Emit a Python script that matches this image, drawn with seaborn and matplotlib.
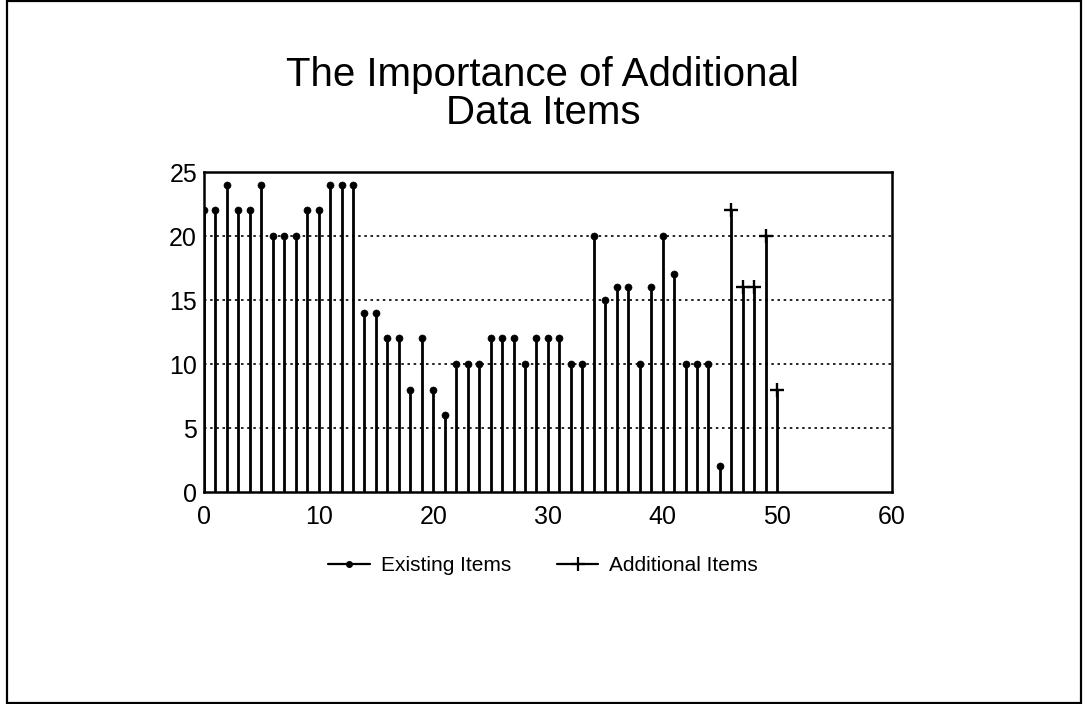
import numpy as np
import pandas as pd
import matplotlib
matplotlib.use('Agg')
import matplotlib.pyplot as plt
import seaborn as sns
from matplotlib.patches import Rectangle
from matplotlib.lines import Line2D

# data
existing_x = list(range(0, 46))
existing_y = [22, 22, 24, 22, 22, 24, 20, 20, 20, 22,
              22, 24, 24, 24, 14, 14, 12, 12, 8, 12,
              8, 6, 10, 10, 10, 12, 12, 12, 10, 12,
              12, 12, 10, 10, 20, 15, 16, 16, 10, 16,
              20, 17, 10, 10, 10, 2]
additional_x = [46, 47, 48, 49, 50]
additional_y = [22, 16, 16, 20, 8]
x_ticks = [0, 10, 20, 30, 40, 50, 60]
y_ticks = [0, 5, 10, 15, 20, 25]
grid_levels = [5, 10, 15, 20]

sns.set_style('white')
plt.rcParams['font.family'] = ['Liberation Sans', 'DejaVu Sans']
plt.rcParams['text.color'] = 'black'
plt.rcParams['xtick.color'] = 'black'
plt.rcParams['ytick.color'] = 'black'

dfe = pd.DataFrame({'x': existing_x, 'y': existing_y})
dfa = pd.DataFrame({'x': additional_x, 'y': additional_y})

fig = plt.figure(figsize=(10.86, 7.04), dpi=100)
ax = fig.add_axes([0.1878, 0.3011, 0.6335, 0.4545])

# stems
ax.vlines(dfe['x'], 0, dfe['y'], color='black', lw=2.0, zorder=3)
ax.vlines(dfa['x'], 0, dfa['y'], color='black', lw=2.0, zorder=3)
# heads
sns.scatterplot(data=dfe, x='x', y='y', ax=ax, marker='o', s=26,
                color='black', edgecolor='black', zorder=4, legend=False)
sns.scatterplot(data=dfa, x='x', y='y', ax=ax, marker='+', s=110,
                color='black', linewidth=1.7, zorder=4, legend=False)

ax.set_xlim(0, 60)
ax.set_ylim(0, 25)
ax.set_xticks(x_ticks)
ax.set_yticks(y_ticks)
ax.set_xlabel('')
ax.set_ylabel('')
ax.tick_params(length=0, labelsize=18)
ax.tick_params(axis='x', pad=9)
ax.tick_params(axis='y', pad=5)
for g in grid_levels:
    ax.axhline(g, color='black', lw=1.2, ls=(0, (1.5, 2.2)), zorder=1)
for s in ax.spines.values():
    s.set_color('black')
    s.set_linewidth(1.8)

fig.text(0.5, 0.866, 'The Importance of Additional\nData Items', ha='center',
         va='center', fontsize=29, linespacing=1.0)

handles = [Line2D([], [], color='black', lw=1.6, marker='o', markersize=4),
           Line2D([], [], color='black', lw=1.6, marker='+', markersize=10,
                  markeredgewidth=1.6)]
fig.legend(handles, ['Existing Items', 'Additional Items'], loc='center',
           bbox_to_anchor=(0.5, 0.197), ncol=2, frameon=False, fontsize=15,
           handlelength=2.0, handletextpad=0.5, columnspacing=2.2)

fig.add_artist(Rectangle((0.0065, 0.002), 0.9885, 0.996, transform=fig.transFigure,
                         fill=False, edgecolor='black', lw=1.6))

fig.savefig('out.png', dpi=100)
